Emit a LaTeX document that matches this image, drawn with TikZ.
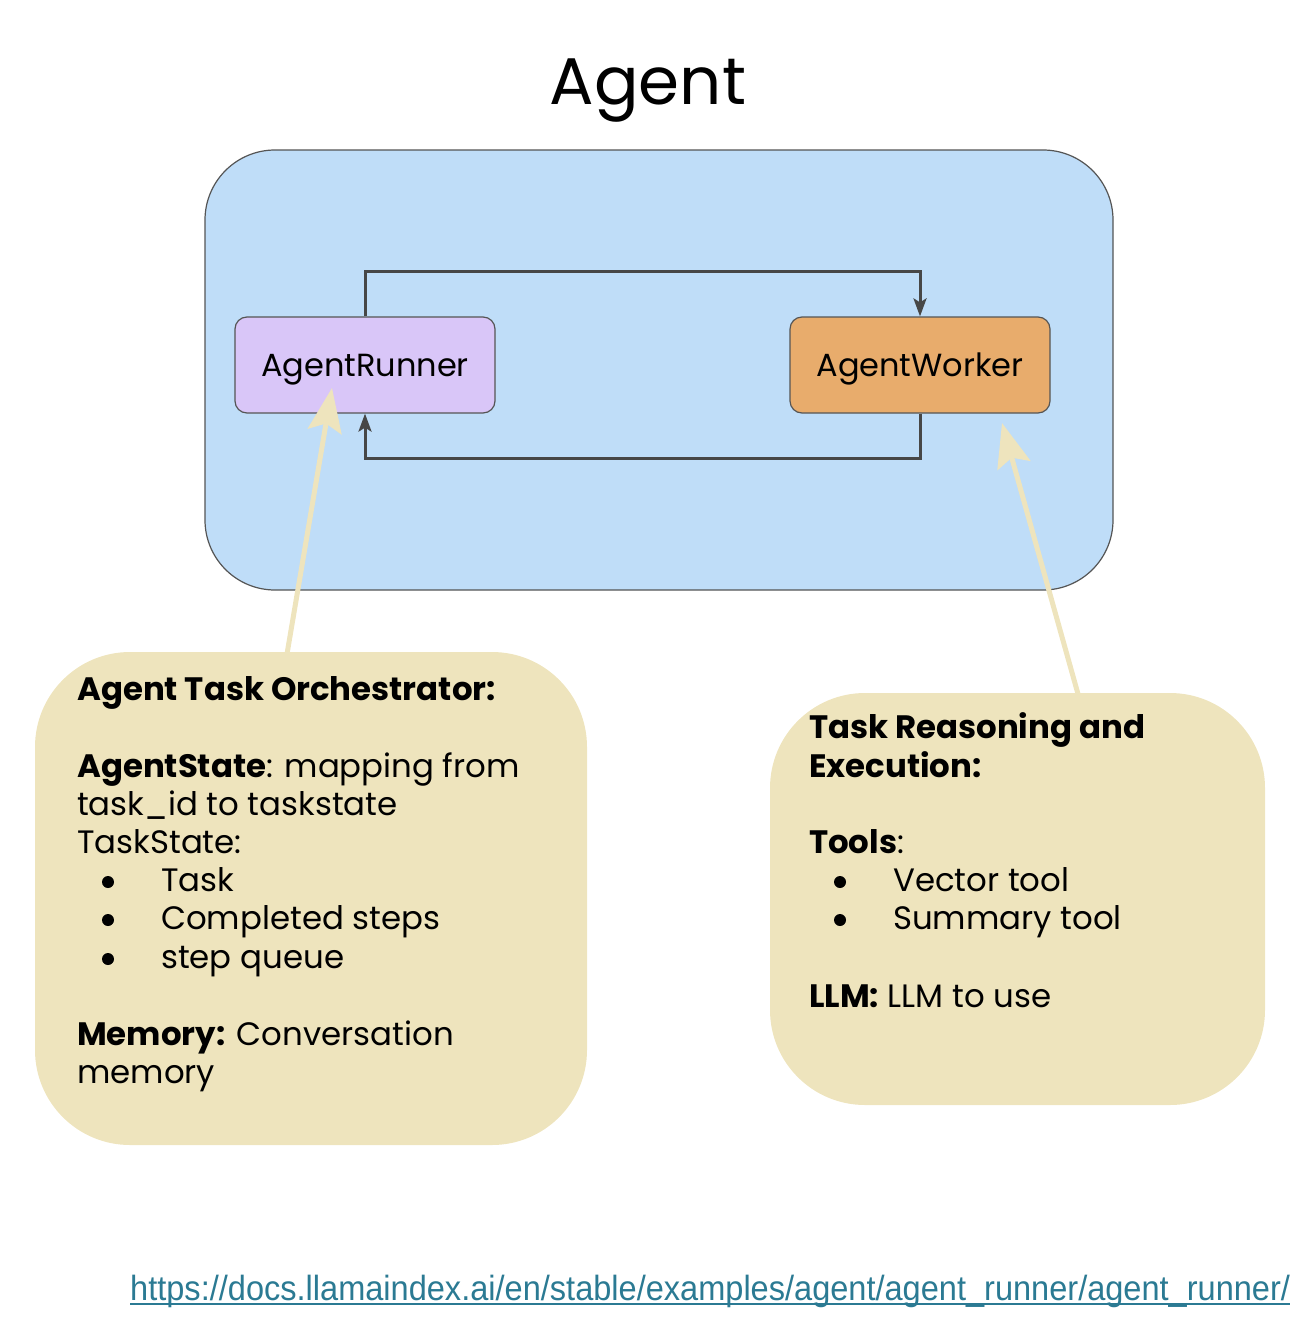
\documentclass[tikz,border=0pt]{standalone}
\usepackage{fontspec}
\setmainfont{Poppins}
\newfontfamily\urlfont{Liberation Sans}
\usetikzlibrary{arrows.meta}

\definecolor{agentblue}{HTML}{BFDDF8}
\definecolor{runnerlilac}{HTML}{D9C6F8}
\definecolor{workerorange}{HTML}{E8AC6C}
\definecolor{notecream}{HTML}{EEE4BD}
\definecolor{edgegray}{HTML}{555555}
\definecolor{loopgray}{HTML}{474747}
\definecolor{linkteal}{HTML}{2B7A93}

\begin{document}
\begin{tikzpicture}[x=1pt,y=-1pt,
  container/.style={draw=edgegray, line width=1.2pt, fill=agentblue,
    rounded corners=70pt, minimum width=908pt, minimum height=440pt, inner sep=0pt},
  component/.style={draw=edgegray, line width=1.2pt, rounded corners=12pt,
    minimum width=260pt, minimum height=96pt, inner sep=0pt, text depth=0pt,
    font=\fontsize{32}{38}\selectfont},
  note/.style={fill=notecream, rounded corners=95pt, inner sep=0pt},
  loop/.style={draw=loopgray, line width=3pt,
    -{Stealth[length=18pt, width=13pt, inset=4pt]}},
  hint/.style={draw=notecream, line width=5pt,
    -{Stealth[length=44pt, width=34pt, inset=8pt]}},
  txt/.style={anchor=base west, inner sep=0pt, font=\fontsize{32.4}{38}\selectfont},
  dot/.style={circle, fill=black, inner sep=0pt, minimum size=12pt},
]
\useasboundingbox (0,0) rectangle (1310,1322);

% title
\node[inner sep=0pt, font=\fontsize{66}{76}\selectfont] (title) at (648,91) {Agent};

% agent container and its two components
\node[container] (agent) at (659,370) {};
\node[component, fill=runnerlilac] (runner) at (365,365) {AgentRunner};
\node[component, fill=workerorange] (worker) at (920,365) {AgentWorker};

% control loop between runner and worker
\draw[loop] (runner.north) -- ++(0,-45) -| (worker.north);
\draw[loop] (worker.south) -- ++(0,45) -| (runner.south);

% explanatory notes
\node[note, minimum width=552pt, minimum height=493pt] (orch) at (311,898.5) {};
\node[note, minimum width=495pt, minimum height=412pt] (exec) at (1017.5,899) {};

\coordinate (orchtop) at (287,654);
\coordinate (runnertip) at (332,388);
\coordinate (exectop) at (1078,694);
\coordinate (workertip) at (1002,423);
\draw[hint] (orchtop) -- (runnertip);
\draw[hint] (exectop) -- (workertip);

% orchestrator note text
\node[txt] (o1) at (77,700) {\textbf{Agent Task Orchestrator:}};
\node[txt] (o2) at (77,777) {\textbf{AgentState}: mapping from};
\node[txt] (o3) at (77,815) {task\_id to taskstate};
\node[txt] (o4) at (77,853) {TaskState:};
\node[dot] (ob1) at (108,882) {};
\node[txt] (o5) at (161,891) {Task};
\node[dot] (ob2) at (108,920) {};
\node[txt] (o6) at (161,929) {Completed steps};
\node[dot] (ob3) at (108,959) {};
\node[txt] (o7) at (161,968) {step queue};
\node[txt] (o8) at (77,1045) {\textbf{Memory:} Conversation};
\node[txt] (o9) at (77,1083) {memory};

% worker note text
\node[txt] (e1) at (809,738) {\textbf{Task Reasoning and}};
\node[txt] (e2) at (809,777) {\textbf{Execution:}};
\node[txt] (e3) at (809,853) {\textbf{Tools}:};
\node[dot] (eb1) at (840,882) {};
\node[txt] (e4) at (893,891) {Vector tool};
\node[dot] (eb2) at (840,920) {};
\node[txt] (e5) at (893,929) {Summary tool};
\node[txt] (e6) at (809,1007) {\textbf{LLM:} LLM to use};

% source link
\node[anchor=base west, inner sep=0pt, text=linkteal,
  font=\urlfont\fontsize{35}{40}\selectfont] (url) at (130,1300)
  {\scalebox{0.93}[1]{https://docs.llamaindex.ai/en/stable/examples/agent/agent\_runner/agent\_runner/}};
\draw[linkteal, line width=2pt] ([yshift=-4pt]url.base west) -- ([yshift=-4pt]url.base east);
\end{tikzpicture}
\end{document}
